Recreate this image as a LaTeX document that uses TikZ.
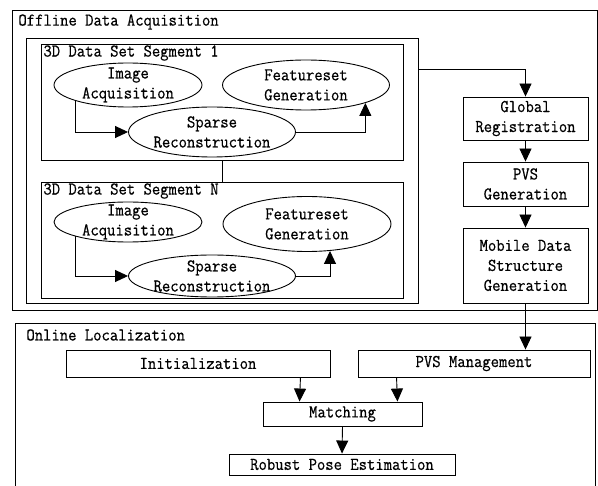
\documentclass[tikz,border=0pt]{standalone}
\usepackage{fontspec}
\setmonofont[FakeStretch=0.9, FakeBold=0.6]{Latin Modern Mono}
\usetikzlibrary{shapes,arrows,positioning,calc,arrows.meta}

\begin{document}
\begin{tikzpicture}[x=1pt, y=-1pt,
    font=\ttfamily\fontsize{18}{20}\selectfont,
    line width=0.9pt,
    frame/.style={draw, rectangle, inner sep=0pt, anchor=north west},
    title/.style={anchor=west, inner sep=0pt},
    txt/.style={align=center, inner sep=0pt},
    proc/.style={draw, ellipse, inner sep=0pt},
    blk/.style={draw, rectangle, inner sep=0pt, align=center},
    arr/.style={-{Triangle[length=13pt, width=12pt]}}
]
    \useasboundingbox (0,0) rectangle (598,486);

    % Offline part
    \node [frame, line width=1.2pt, minimum width=585, minimum height=300] (offline) at (12,10) {};
    \node [title] (offtitle) at ($(offline.north west)+(6,12)$) {Offline Data Acquisition};
    \node [frame, minimum width=392, minimum height=265] (segs) at (26,38) {};
    \node [frame, minimum width=362, minimum height=116] (seg1) at (41,44) {};
    \node [frame, minimum width=362, minimum height=116] (segN) at (41,182) {};
    \node [title] (seg1title) at ($(seg1.north west)+(2,9)$) {3D Data Set Segment 1};
    \node [title] (segNtitle) at ($(segN.north west)+(2,9)$) {3D Data Set Segment N};

    % Segment 1
    \node [proc, minimum width=148, minimum height=44, label={[txt]center:Image\\Acquisition}] (img1) at (128,85) {};
    \node [proc, minimum width=167, minimum height=50, label={[txt]center:Featureset\\Generation}] (feat1) at (306,85) {};
    \node [proc, minimum width=167, minimum height=50, label={[txt]center:Sparse\\Reconstruction}] (sparse1) at (212,132) {};
    \draw [arr] (img1.south west) |- (sparse1.west);
    \draw [arr] (sparse1.east) -| (feat1.south east);

    % Segment N
    \node [proc, minimum width=148, minimum height=40, label={[txt]center:Image\\Acquisition}] (imgN) at (128,222) {};
    \node [proc, minimum width=168, minimum height=55, label={[txt]center:Featureset\\Generation}] (featN) at (307,224) {};
    \node [proc, minimum width=167, minimum height=42, label={[txt]center:Sparse\\Reconstruction}] (sparseN) at (212,276) {};
    \draw [arr] (imgN.south west) |- (sparseN.west);
    \draw [arr] (sparseN.east) -| ($(featN.south)+(23,-1)$);

    \draw (seg1.south) -- (segN.north);

    % Global chain
    \node [blk, minimum width=125, minimum height=43] (glob) at (525.5,118.5) {Global\\Registration};
    \node [blk, minimum width=125, minimum height=44] (pvsgen) at (525.5,184) {PVS\\Generation};
    \node [blk, minimum width=125, minimum height=75] (mobile) at (525.5,265.5) {Mobile Data\\Structure\\Generation};
    \draw [arr] ($(segs.north east)+(0,31)$) -| (glob.north);
    \draw [arr] (glob.south) -- (pvsgen.north);
    \draw [arr] (pvsgen.south) -- (mobile.north);

    % Online part
    \node [frame, minimum width=580, minimum height=170] (online) at (15,323) {};
    \node [title] (ontitle) at ($(online.north west)+(11,12)$) {Online Localization};
    \node [blk, minimum width=264, minimum height=27] (init) at (198,363.5) {Initialization};
    \node [blk, minimum width=232, minimum height=27] (pvsman) at (474,363.5) {PVS Management};
    \node [blk, minimum width=159, minimum height=24] (match) at (342.5,414) {Matching};
    \node [blk, minimum width=226, minimum height=21] (robust) at (342,464.5) {Robust Pose Estimation};

    \draw [arr] (mobile.south) -- (mobile.south |- pvsman.north);
    \draw [arr] ($(init.south east)+(-30,0)$) -- ($(match.north west)+(37,0)$);
    \draw [arr] ($(pvsman.south west)+(39,0)$) -- ($(match.north east)+(-25,0)$);
    \draw [arr] (match.south) -- (robust.north);
\end{tikzpicture}
\end{document}
